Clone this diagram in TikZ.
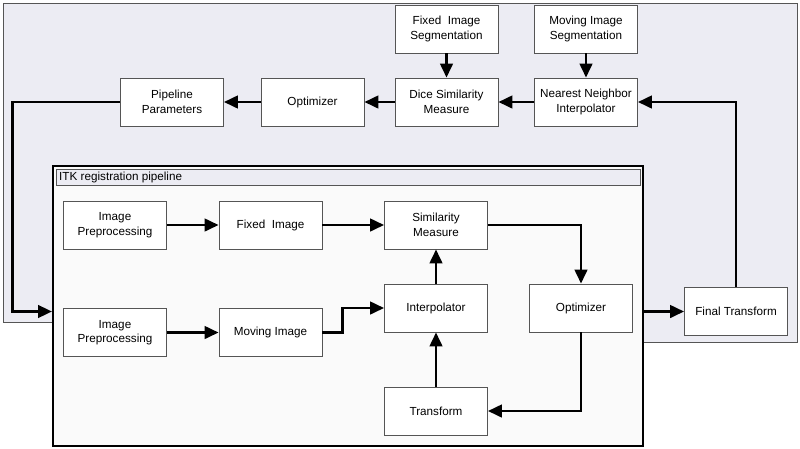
\documentclass[tikz,border=0pt]{standalone}
\usepackage{fontspec}
\setmainfont{Liberation Sans}
\usetikzlibrary{arrows.meta}
\definecolor{panel}{RGB}{236,236,243}
\definecolor{edge}{RGB}{85,85,85}

\begin{document}
\begin{tikzpicture}[x=1pt,y=-1pt,
    box/.style={draw=edge,line width=0.8pt,fill=white,minimum width=103pt,minimum height=48pt,
      align=center,font=\fontsize{11.7}{14.5}\selectfont,inner sep=1pt},
    arr/.style={line width=2.8pt,-{Triangle[length=14pt,width=12.5pt]}}]
    \useasboundingbox (0,0) rectangle (800,448);
    % grey panel of the outer loop (it is deeper on the right)
    \fill[panel,draw=edge,line width=0.8pt] (3,3) -- (797,3) -- (797,342) -- (600,342) -- (600,322) -- (3,322) -- cycle;
    % the ITK pipeline
    \node[draw=black,line width=2pt,fill=white!98!black,minimum width=590pt,minimum height=280pt,inner sep=0pt] (itk) at (348,306) {};
    \draw[edge,fill=panel,line width=0.6pt] (56,169) rectangle (640,185);
    \node[anchor=west,font=\fontsize{11.7}{13}\selectfont,inner sep=0pt] (itktitle) at (59,177) {ITK registration pipeline};

    % outer loop
    \node[box] (fixseg) at (446.5,29) {Fixed\ \ Image\\Segmentation};
    \node[box] (movseg) at (586,29) {Moving Image\\Segmentation};
    \node[box] (dice) at (446.5,102) {Dice Similarity\\Measure};
    \node[box] (nn) at (586,102) {Nearest Neighbor\\Interpolator};
    \node[box] (opttop) at (312.5,102) {Optimizer};
    \node[box] (params) at (172,102) {Pipeline\\Parameters};
    \node[box] (final) at (736,311.5) {Final Transform};

    % inside the pipeline
    \node[box] (pre1) at (115,225) {Image\\Preprocessing};
    \node[box] (fixed) at (270.5,225) {Fixed\ \ Image};
    \node[box] (simil) at (436,225) {Similarity\\Measure};
    \node[box] (pre2) at (115,332.5) {Image\\Preprocessing};
    \node[box] (moving) at (270.5,332.5) {Moving Image};
    \node[box] (interp) at (436,308) {Interpolator};
    \node[box] (optin) at (581,308) {Optimizer};
    \node[box] (transf) at (436,411) {Transform};

    \draw[arr] (fixseg) -- (dice);
    \draw[arr] (movseg) -- (nn);
    \draw[arr] (nn) -- (dice);
    \draw[arr] (dice) -- (opttop);
    \draw[arr] (opttop) -- (params);
    \draw[arr] (params.west) -- ++(-108,0) |- (itk.west |- final.west);
    \draw[arr] (itk.east |- final.west) -- (final.west);
    \draw[arr] (final.north) |- (nn.east);

    \draw[arr] (pre1) -- (fixed);
    \draw[arr] (fixed) -- (simil);
    \draw[arr] (pre2) -- (moving);
    \draw[arr] (moving.east) -- ++(20,0) |- (interp.west);
    \draw[arr] (interp) -- (simil);
    \draw[arr] (transf) -- (interp);
    \draw[arr] (simil.east) -| (optin.north);
    \draw[arr] (optin.south) |- (transf.east);
\end{tikzpicture}
\end{document}
